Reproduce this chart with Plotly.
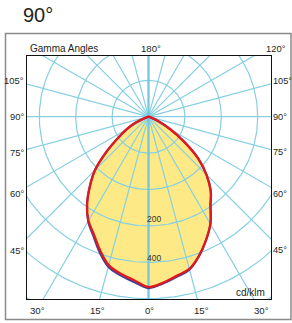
import numpy as np
import plotly.graph_objects as go

# ---------------- data ----------------
gamma = [0, 5, 10, 15, 20, 25, 30, 35, 40, 45, 50, 55, 60, 65, 70, 75, 80, 85, 90]
# C90 plane (right half) and C270 plane (left half), cd/klm
red_right = [468, 458, 444, 433, 406, 374, 340, 297, 266, 225, 178, 119, 69, 33, 8, 0, 0, 0, 0]
red_left = [468, 451, 438, 422, 390, 356, 330, 294, 251, 208, 152, 103, 69, 40, 11, 0, 0, 0, 0]
blue_right = [471, 460, 447, 435, 407, 374, 340, 297, 266, 225, 178, 119, 69, 33, 8, 0, 0, 0, 0]
blue_left = [471, 456, 443, 427, 395, 360, 332, 295, 251, 208, 152, 103, 69, 40, 11, 0, 0, 0, 0]

circle_values = [100, 200, 300, 400, 500, 600, 700]
spoke_angles = list(range(0, 360, 15))
ring_label_text = ["200", "400"]
ring_label_at = [300, 400]

side_label_angles = [105, 90, 75, 60, 45]
side_label_text = ["105°", "90°", "75°", "60°", "45°"]
bottom_label_angles = [30, 15, 0, 15, 30]
bottom_label_sides = [-1, -1, 0, 1, 1]
bottom_label_text = ["30°", "15°", "0°", "15°", "30°"]

# ---------------- geometry ----------------
W, H = 292, 323
BL, BT, BR, BB = 27, 56, 271, 299          # inner box in px
CX, CY = 148.5, 116.7                       # pole in px
S = 0.364                                   # px per cd/klm

xr = [(BL - CX) / S, (BR - CX) / S]
yr = [-(BB - CY) / S, (CY - BT) / S]

def px2paper(px, py):
    return (px - BL) / (BR - BL), (BB - py) / (BB - BT)

GRID = "#86cfe2"
SMOOTH = 1.1
fig = go.Figure()

def half_xy(vals, side):
    g = np.radians(np.array(gamma, dtype=float))
    r = np.array(vals, dtype=float)
    return side * r * np.sin(g), -r * np.cos(g)

def closed_curve(right, left):
    xr_, yr_ = half_xy(right, 1)
    xl_, yl_ = half_xy(left, -1)
    x = np.concatenate([xr_, xl_[::-1][1:]])
    y = np.concatenate([yr_, yl_[::-1][1:]])
    return x, y

# yellow fill
fx, fy = closed_curve(red_right, red_left)
fig.add_trace(go.Scatter(x=fx, y=fy, mode="lines", fill="toself",
                         fillcolor="#fdea86", line=dict(width=0, shape="spline", smoothing=SMOOTH),
                         hoverinfo="skip", showlegend=False))

# grid circles
t = np.radians(np.linspace(0, 360, 361))
gx, gy = [], []
for rv in circle_values:
    gx += list(rv * np.cos(t)) + [None]
    gy += list(rv * np.sin(t)) + [None]
fig.add_trace(go.Scatter(x=gx, y=gy, mode="lines", line=dict(color=GRID, width=1.2),
                         hoverinfo="skip", showlegend=False))

# spokes
sx, sy = [], []
RMAX = 900
for a in spoke_angles:
    ar = np.radians(a)
    sx += [0, RMAX * np.sin(ar), None]
    sy += [0, -RMAX * np.cos(ar), None]
fig.add_trace(go.Scatter(x=sx, y=sy, mode="lines", line=dict(color=GRID, width=1.2),
                         hoverinfo="skip", showlegend=False))
# main vertical axis thicker
fig.add_trace(go.Scatter(x=[0, 0], y=[-RMAX, RMAX], mode="lines",
                         line=dict(color="#72c6dd", width=2.2),
                         hoverinfo="skip", showlegend=False))

# curves
bx, by = closed_curve(blue_right, blue_left)
fig.add_trace(go.Scatter(x=bx, y=by, mode="lines",
                         line=dict(color="#3b3f9a", width=2, shape="spline", smoothing=SMOOTH),
                         hoverinfo="skip", showlegend=False))
fig.add_trace(go.Scatter(x=fx, y=fy, mode="lines",
                         line=dict(color="#dd1a22", width=2.4, shape="spline", smoothing=SMOOTH),
                         hoverinfo="skip", showlegend=False))

# ---------------- annotations ----------------
FONT = "Arial, Liberation Sans, sans-serif"
TXT = "#231f20"
ann = []

def add_px(text, px, py, xa="center", size=10, color=TXT):
    xp, yp = px2paper(px, py)
    ann.append(dict(text=text, x=xp, y=yp, xref="paper", yref="paper",
                    xanchor=xa, yanchor="middle", showarrow=False,
                    font=dict(family=FONT, size=size, color=color)))

LABEL_DX = CX - 15
for g, txt in zip(side_label_angles, side_label_text):
    gr = np.radians(g)
    py = CY + LABEL_DX * np.cos(gr) / np.sin(gr)
    add_px(txt, 25.8, py, xa="right", size=9.4)
    add_px(txt, 271.2, py, xa="left", size=9.2)

LABEL_DY = 310 - CY
for g, sd, txt in zip(bottom_label_angles, bottom_label_sides, bottom_label_text):
    px = CX + sd * LABEL_DY * np.tan(np.radians(g))
    add_px(txt, px + 1, 310, size=9.6)

add_px("Gamma Angles", 28, 48.5, xa="left")
add_px("180°", 151, 48.5, size=9.6)
add_px("120°", 276, 48.5, size=9.4)
add_px("cd/klm", 267, 292.5, xa="right")
add_px("90°", 37.5, 15, size=20, color="#231f20")

for txt, rv, dy in zip(ring_label_text, ring_label_at, [7, 4]):
    ann.append(dict(text=txt, x=0, y=-rv, xref="x", yref="y", xanchor="left",
                    yanchor="middle", xshift=-4, yshift=dy, showarrow=False,
                    font=dict(family=FONT, size=8.5, color="#333333")))

fx0, fy0 = px2paper(5.5, 319.5)
fx1, fy1 = px2paper(291, 33.5)
shapes = [dict(type="rect", xref="paper", yref="paper", x0=fx0, y0=fy0, x1=fx1, y1=fy1,
               line=dict(color="#8a8a8a", width=1.5), layer="below")]

fig.update_layout(
    width=W, height=H,
    margin=dict(l=BL, r=W - BR, t=BT, b=H - BB, pad=0),
    paper_bgcolor="white", plot_bgcolor="white",
    xaxis=dict(range=xr, showgrid=False, zeroline=False, showticklabels=False, ticks="",
               showline=True, mirror=True, linecolor="#111111", linewidth=1, fixedrange=True),
    yaxis=dict(range=yr, showgrid=False, zeroline=False, showticklabels=False, ticks="",
               showline=True, mirror=True, linecolor="#111111", linewidth=1, fixedrange=True),
    annotations=ann, shapes=shapes, showlegend=False,
)

fig.write_html("out.html", config={"displayModeBar": False},
               post_script="document.body.style.margin='0';document.body.style.overflow='hidden';")
